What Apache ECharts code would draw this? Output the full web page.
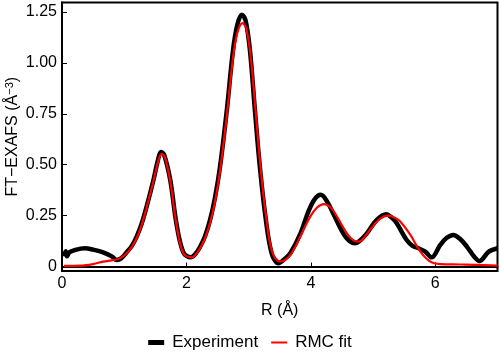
<!DOCTYPE html>
<html>
<head>
<meta charset="utf-8">
<script src="https://cdn.jsdelivr.net/npm/echarts@6/dist/echarts.min.js"></script>
<style>html,body{margin:0;padding:0;background:#fff}#c{width:500px;height:356px}</style>
</head>
<body>
<div id="c"></div>
<script>
// Experiment (R in Å, |FT| in Å^-3)
const expR = [0.03,0.06,0.08,0.12,0.2,0.3,0.37,0.5,0.66,0.8,0.88,0.95,1.04,1.12,1.2,1.28,1.36,1.47,1.54,1.59,1.64,1.74,1.84,1.95,2.07,2.14,2.22,2.3,2.38,2.46,2.54,2.65,2.75,2.82,2.89,2.95,3.02,3.1,3.18,3.27,3.37,3.48,3.57,3.67,3.83,3.96,4.06,4.16,4.26,4.36,4.52,4.62,4.71,4.8,4.9,5.06,5.21,5.3,5.38,5.54,5.64,5.73,5.84,5.94,6.08,6.18,6.29,6.4,6.51,6.62,6.71,6.86,7.0];
const expV = [0.05,0.075,0.05,0.07,0.08,0.088,0.09,0.083,0.07,0.05,0.032,0.04,0.07,0.1,0.147,0.21,0.294,0.425,0.52,0.563,0.55,0.425,0.21,0.07,0.045,0.06,0.097,0.15,0.229,0.34,0.49,0.77,1.065,1.19,1.237,1.21,1.065,0.77,0.49,0.245,0.065,0.016,0.035,0.065,0.16,0.27,0.33,0.352,0.32,0.26,0.163,0.125,0.114,0.13,0.163,0.229,0.257,0.24,0.212,0.13,0.1,0.09,0.073,0.045,0.106,0.14,0.155,0.135,0.097,0.05,0.027,0.073,0.09];
// RMC fit
const fitR = [0.03,0.29,0.5,0.66,0.83,0.93,1.04,1.12,1.2,1.28,1.36,1.47,1.54,1.6,1.65,1.74,1.84,1.95,2.08,2.15,2.22,2.3,2.38,2.46,2.54,2.65,2.75,2.82,2.9,2.96,3.03,3.11,3.19,3.28,3.38,3.51,3.6,3.7,3.85,3.99,4.1,4.21,4.32,4.42,4.58,4.68,4.77,4.85,4.95,5.11,5.25,5.35,5.44,5.6,5.76,5.92,6.08,6.4,6.7,7.0];
const fitV = [0.003,0.004,0.012,0.024,0.032,0.04,0.065,0.095,0.14,0.205,0.29,0.42,0.51,0.553,0.54,0.42,0.205,0.065,0.045,0.058,0.09,0.14,0.215,0.32,0.47,0.745,1.03,1.15,1.196,1.17,1.04,0.77,0.49,0.245,0.07,0.024,0.035,0.07,0.16,0.245,0.29,0.307,0.29,0.245,0.163,0.13,0.122,0.14,0.18,0.234,0.25,0.24,0.22,0.155,0.073,0.024,0.012,0.01,0.008,0.004];
const yTicks = [0, 0.25, 0.5, 0.75, 1.0, 1.25];
const xTicks = [0, 2, 4, 6];
const seriesNames = ['Experiment', 'RMC fit'];

const zip = (a, b) => a.map((v, i) => [v, b[i]]);
const font = 'Liberation Sans, Arial, sans-serif';

const chart = echarts.init(document.getElementById('c'), null, {renderer: 'canvas'});
chart.setOption({
  animation: false,
  backgroundColor: '#fff',
  grid: {left: 62, right: 2.5, top: 2.5, bottom: 85, outerBoundsMode: 'none', containLabel: false,
    show: true, borderColor: '#000', borderWidth: 2, backgroundColor: 'transparent'},
  xAxis: {
    type: 'value', min: 0, max: 7.0, interval: 2,
    axisLine: {lineStyle: {color: '#000', width: 2}},
    axisTick: {inside: true, length: 4, lineStyle: {color: '#000', width: 1}, customValues: xTicks},
    axisLabel: {color: '#000', fontSize: 16, fontFamily: font, margin: 5, customValues: xTicks},
    splitLine: {show: false},
    name: 'R (Å)', nameLocation: 'middle', nameGap: 32, nameMoveOverlap: false,
    nameTextStyle: {color: '#000', fontSize: 16, fontFamily: font}
  },
  yAxis: {
    type: 'value', min: -0.022, max: 1.297,
    axisLine: {show: true, lineStyle: {color: '#000', width: 2}},
    axisTick: {show: true, inside: true, length: 5, lineStyle: {color: '#000', width: 1}, customValues: yTicks},
    axisLabel: {color: '#000', fontSize: 16, fontFamily: font, margin: 5, customValues: yTicks,
      formatter: v => v === 0 ? '0' : v.toFixed(2)},
    splitLine: {show: false},
    name: '{a|FT−EXAFS (Å}{s|−3}{a|)}', nameLocation: 'middle', nameGap: 40, nameRotate: 90, nameMoveOverlap: false,
    nameTextStyle: {color: '#000', fontFamily: font,
      rich: {a: {fontSize: 16, fontFamily: font, color: '#000', lineHeight: 18},
             s: {fontSize: 11, fontFamily: font, color: '#000', verticalAlign: 'top', lineHeight: 18, padding: [0,0,6,0]}}}
  },
  legend: {
    bottom: 5, left: 'center', padding: 0, itemGap: 13, itemWidth: 16, itemHeight: 5,
    textStyle: {color: '#000', fontSize: 17, fontFamily: font, padding: [0, 0, 0, 3]},
    data: [
      {name: seriesNames[0], icon: 'path://M0,0H16V5H0Z', itemStyle: {color: '#000'}},
      {name: seriesNames[1], icon: 'path://M0,0H16V2H0Z', itemStyle: {color: '#ff0000'}}
    ]
  },
  series: [
    {name: seriesNames[0], type: 'line', data: zip(expR, expV), smooth: 0.35, showSymbol: false,
     lineStyle: {color: '#000', width: 4.5}, itemStyle: {color: '#000'}, z: 2},
    {name: seriesNames[1], type: 'line', data: zip(fitR, fitV), smooth: 0.35, showSymbol: false,
     lineStyle: {color: '#ff0000', width: 2.2}, itemStyle: {color: '#ff0000'}, z: 3}
  ]
});
</script>
</body>
</html>
